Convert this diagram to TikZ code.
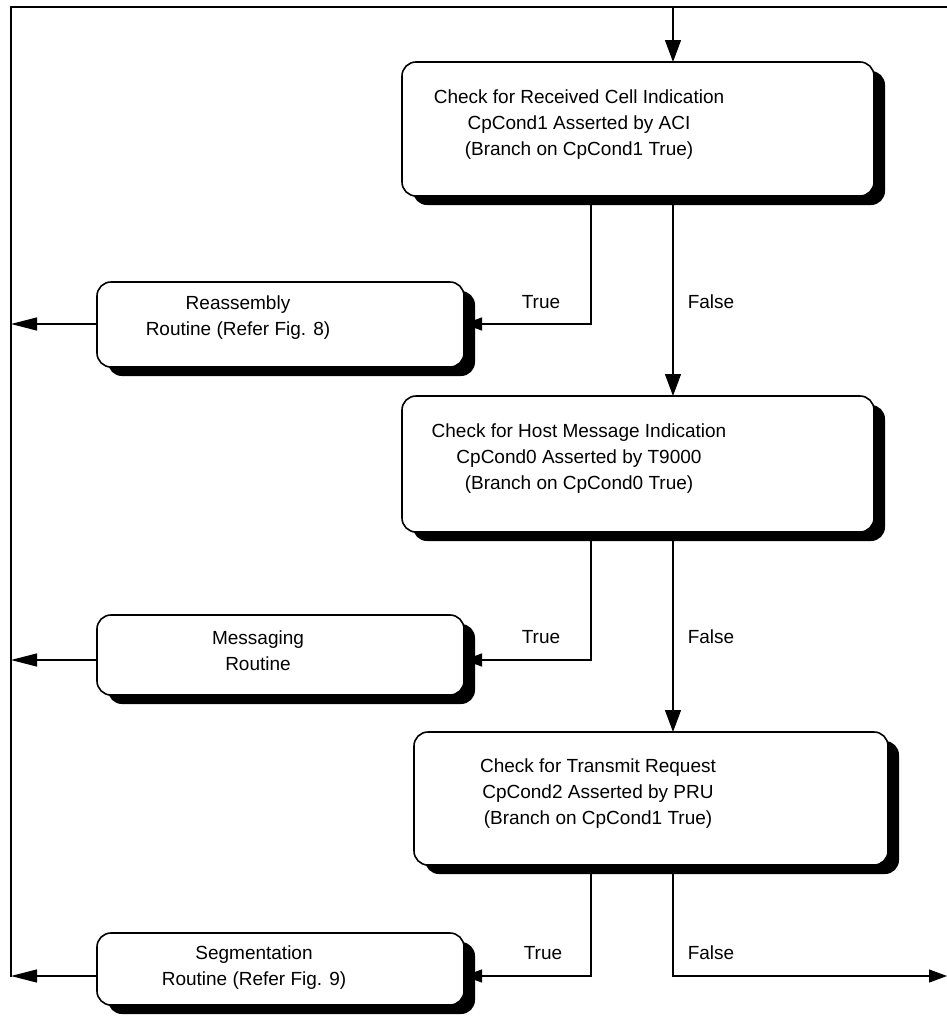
\documentclass[tikz,border=0pt]{standalone}
\usepackage{fontspec}
\setmainfont{Liberation Sans}
\usetikzlibrary{arrows.meta,shadows}

\begin{document}
\begin{tikzpicture}[x=1pt,y=-1pt,
  box/.style={draw=black, line width=1.6pt, fill=white, rounded corners=14pt,
    inner sep=0pt, outer sep=0pt,
    drop shadow={shadow xshift=11pt, shadow yshift=-9pt, fill=black, opacity=1}},
  txt/.style={align=center, inner sep=0pt, font=\fontsize{19}{26}\selectfont},
  lbl/.style={inner sep=0pt, font=\fontsize{19}{23}\selectfont},
  wire/.style={line width=1.2pt},
  frame/.style={line width=1.8pt},
  down/.style={wire, -{Triangle[length=22pt,width=16pt]}},
  into/.style={wire, -{Triangle[length=18pt,width=13pt]}},
  back/.style={wire, -{Triangle[length=26pt,width=13pt]}}]

\useasboundingbox (0,0) rectangle (947,1020);

% reference columns and rows for the connectors
\coordinate (tl) at (11,7);
\coordinate (tr) at (947,7);
\coordinate (bl) at (11,977);
\coordinate (entry) at (673,7);
\coordinate (cT) at (591,0);
\coordinate (cF) at (673,0);
\coordinate (rowA) at (0,324);
\coordinate (rowB) at (0,660);
\coordinate (rowC) at (0,976);
\coordinate (exit) at (947,976);

% decision boxes
\node[box, minimum width=472pt, minimum height=134pt] (b1) at (638,129) {};
\node[txt] (t1) at (579,125) {Check for Received Cell Indication\\CpCond1 Asserted by ACI\\(Branch on CpCond1 True)};

\node[box, minimum width=472pt, minimum height=136pt] (b2) at (638,464) {};
\node[txt] (t2) at (579,459) {Check for Host Message Indication\\CpCond0 Asserted by T9000\\(Branch on CpCond0 True)};

\node[box, minimum width=474pt, minimum height=133pt] (b3) at (651,798.5) {};
\node[txt] (t3) at (598,794) {Check for Transmit Request\\CpCond2 Asserted by PRU\\(Branch on CpCond1 True)};

% routine boxes
\node[box, minimum width=367pt, minimum height=85pt] (r1) at (280.5,324.5) {};
\node[txt] (u1) at (238,318) {Reassembly\\Routine (Refer Fig. 8)};

\node[box, minimum width=367pt, minimum height=80pt] (r2) at (280.5,655) {};
\node[txt] (u2) at (258,651) {Messaging\\Routine};

\node[box, minimum width=367pt, minimum height=72pt] (r3) at (280.5,969) {};
\node[txt] (u3) at (254,968) {Segmentation\\Routine (Refer Fig. 9)};

% loop frame and entry
\draw[frame] (tr) -- (tl) -- (bl);
\draw[down] (entry) -- (entry |- b1.north);

% first decision
\draw[into] (b1.south -| cT) |- (rowA -| r1.east);
\draw[down] (b1.south -| cF) -- (b2.north -| cF);
\draw[back] (rowA -| r1.west) -- (rowA -| tl);
\node[lbl] (l1t) at (541,302) {True};
\node[lbl] (l1f) at (711,302) {False};

% second decision
\draw[into] (b2.south -| cT) |- (rowB -| r2.east);
\draw[down] (b2.south -| cF) -- (b3.north -| cF);
\draw[back] (rowB -| r2.west) -- (rowB -| tl);
\node[lbl] (l2t) at (541,637) {True};
\node[lbl] (l2f) at (711,637) {False};

% third decision
\draw[into] (b3.south -| cT) |- (rowC -| r3.east);
\draw[into] (b3.south -| cF) |- (exit);
\draw[back] (rowC -| r3.west) -- (rowC -| tl);
\node[lbl] (l3t) at (543,953) {True};
\node[lbl] (l3f) at (711,953) {False};

\end{tikzpicture}
\end{document}
